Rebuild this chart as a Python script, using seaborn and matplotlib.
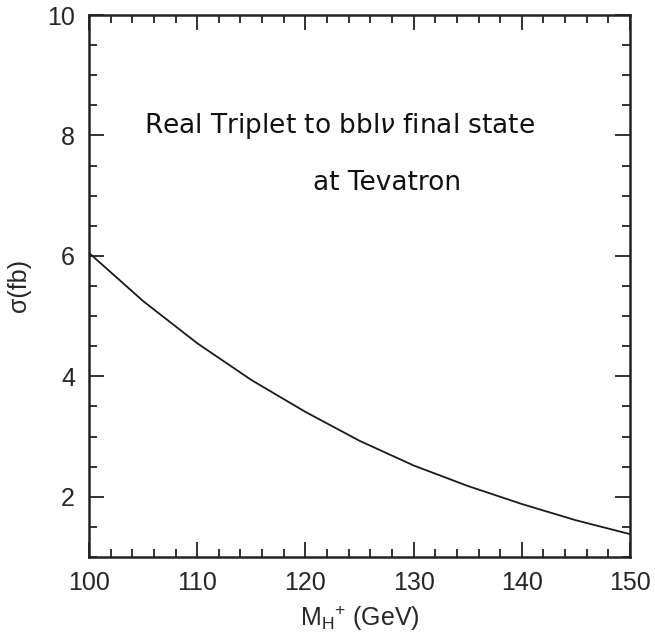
import matplotlib
matplotlib.use("Agg")
import matplotlib.pyplot as plt
import seaborn as sns
import pandas as pd
from matplotlib.ticker import MultipleLocator

mass = [100, 105, 110, 115, 120, 125, 130, 135, 140, 145, 150]
sigma = [6.05, 5.25, 4.55, 3.94, 3.41, 2.93, 2.52, 2.18, 1.88, 1.61, 1.38]

sns.set_theme(style="ticks")
plt.rcParams['font.family'] = ['Liberation Sans', 'DejaVu Sans']
plt.rcParams['mathtext.fontset'] = 'dejavusans'

df = pd.DataFrame({"mass": mass, "sigma": sigma})

fig = plt.figure(figsize=(6.55, 6.41), dpi=100)
ax = fig.add_axes([89/655, 1 - 557/641, (630-89)/655, (557-15)/641])
sns.lineplot(data=df, x="mass", y="sigma", ax=ax, color="#1a1a1a", linewidth=1.3)

ax.set_xlim(100, 150)
ax.set_ylim(1, 10)
ax.xaxis.set_major_locator(MultipleLocator(10))
ax.xaxis.set_minor_locator(MultipleLocator(2))
ax.yaxis.set_major_locator(MultipleLocator(2))
ax.yaxis.set_minor_locator(MultipleLocator(0.5))
ax.tick_params(which="both", direction="in", top=True, right=True, color="#222222", width=1.3)
ax.tick_params(which="major", length=11, labelsize=18, pad=10)
ax.tick_params(which="minor", length=6)
for s in ax.spines.values():
    s.set_linewidth(1.8)
    s.set_color("#222222")

ax.set_xlabel("M$_\\mathregular{H}$$^\\mathregular{+}$ (GeV)", fontsize=18, labelpad=6)
ax.set_ylabel("σ(fb)", fontsize=18, labelpad=12)

ax.text(0.464, 0.782, "Real Triplet to bbl$\\nu$ final state", transform=ax.transAxes,
        ha="center", va="baseline", fontsize=19, family=["DejaVu Sans"], color="#111111")
ax.text(0.551, 0.677, "at Tevatron", transform=ax.transAxes,
        ha="center", va="baseline", fontsize=19, family=["DejaVu Sans"], color="#111111")

fig.savefig("out.png", dpi=100)
